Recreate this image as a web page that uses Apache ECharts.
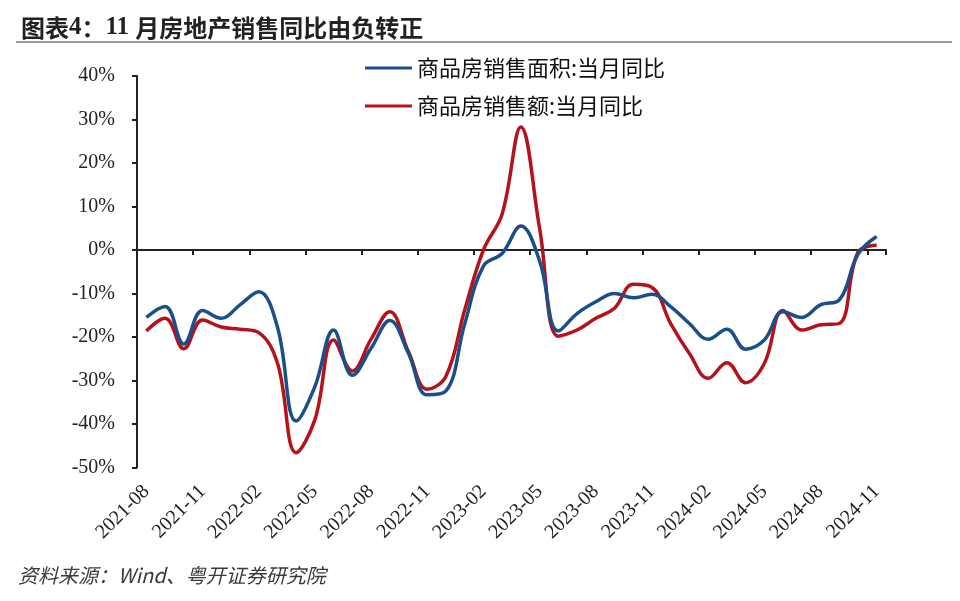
<!DOCTYPE html>
<html>
<head>
<meta charset="utf-8">
<script src="https://cdn.jsdelivr.net/npm/echarts@6/dist/echarts.min.js"></script>
<style>
html,body{margin:0;padding:0;background:#fff;}
#c{width:960px;height:601px;}
</style>
</head>
<body>
<div id="c"></div>
<script>
var categories = ['2021-08','2021-09','2021-10','2021-11','2021-12','2022-01','2022-02','2022-03','2022-04','2022-05','2022-06','2022-07','2022-08','2022-09','2022-10','2022-11','2022-12','2023-01','2023-02','2023-03','2023-04','2023-05','2023-06','2023-07','2023-08','2023-09','2023-10','2023-11','2023-12','2024-01','2024-02','2024-03','2024-04','2024-05','2024-06','2024-07','2024-08','2024-09','2024-10','2024-11'];
var areaYoY = [-15.5,-13.0,-21.6,-13.9,-15.7,-12.6,-9.6,-17.7,-39.3,-31.4,-18.4,-28.8,-22.6,-16.2,-23.8,-33.3,-32.4,-17.0,-3.7,-0.8,5.5,-2.5,-18.6,-14.6,-11.9,-10.0,-11.0,-10.2,-13.0,-16.9,-20.5,-18.2,-22.8,-20.7,-14.2,-15.5,-12.6,-11.5,-1.0,3.1];
var salesYoY = [-18.6,-15.7,-22.7,-16.1,-17.7,-18.2,-19.0,-26.0,-46.6,-39.0,-20.7,-27.8,-20.5,-14.2,-23.4,-32.0,-29.0,-13.8,0.0,8.3,28.3,5.0,-19.8,-18.4,-15.7,-13.4,-7.9,-8.6,-16.9,-23.8,-29.5,-25.9,-30.5,-26.1,-13.9,-18.4,-17.2,-16.9,-0.5,1.1];
var seriesNames = ['商品房销售面积:当月同比','商品房销售额:当月同比'];
var titleText = '{a|图表}{n|4}{a|：}{n|11 }{a|月房地产销售同比由负转正}';
var sourceText = '资料来源：Wind、粤开证券研究院';

var serif = '"Liberation Serif","Times New Roman",serif';
var cjk = '"Noto Sans CJK SC","Noto Sans",sans-serif';
var chart = echarts.init(document.getElementById('c'), null, {renderer:'canvas'});
chart.setOption({
  animation:false,
  backgroundColor:'#fff',
  title:{
    text:titleText, left:16, top:10,
    textStyle:{
      rich:{
        a:{fontFamily:cjk,fontSize:24,fontWeight:'bold',color:'#222'},
        n:{fontFamily:serif,fontSize:25,fontWeight:'bold',color:'#222'}
      }
    }
  },
  graphic:[
    {type:'line',shape:{x1:16,y1:42,x2:952,y2:42},style:{stroke:'#9a9a9a',lineWidth:2}},
    {type:'text',left:18,top:565,style:{text:sourceText,fontFamily:cjk,fontSize:20,fontStyle:'italic',fill:'#3a3a3a'}}
  ],
  legend:{
    orient:'vertical', left:360, top:52, itemGap:16,
    itemWidth:47, itemHeight:3, icon:'rect',
    textStyle:{fontFamily:cjk,fontSize:22,color:'#111'},
    data:seriesNames
  },
  grid:{left:137,right:74,top:76,bottom:133.5,containLabel:false},
  xAxis:[
    {type:'category',data:categories,boundaryGap:true,
     axisLine:{onZero:true,lineStyle:{color:'#222',width:2}},
     axisTick:{show:true,interval:2,length:5,inside:false,lineStyle:{color:'#222',width:2}},
     axisLabel:{show:false}},
    {type:'category',data:categories,boundaryGap:true,position:'bottom',
     axisLine:{show:false,onZero:false},
     axisTick:{show:false},
     axisLabel:{interval:2,rotate:45,margin:21,fontFamily:serif,fontSize:20,color:'#222'}}
  ],
  yAxis:{
    type:'value',min:-50,max:40,interval:10,
    axisLine:{show:true,lineStyle:{color:'#222',width:2}},
    axisTick:{show:true,length:5,lineStyle:{color:'#222',width:2}},
    splitLine:{show:false},
    axisLabel:{formatter:'{value}%',margin:22,fontFamily:serif,fontSize:20,color:'#222'}
  },
  series:[
    {name:seriesNames[0],type:'line',data:areaYoY,smooth:0.4,showSymbol:false,
     lineStyle:{color:'#1b4f8a',width:3.5},itemStyle:{color:'#1b4f8a'},z:3},
    {name:seriesNames[1],type:'line',data:salesYoY,smooth:0.4,showSymbol:false,
     lineStyle:{color:'#b5131c',width:3.5},itemStyle:{color:'#b5131c'},z:2}
  ]
});
</script>
</body>
</html>
